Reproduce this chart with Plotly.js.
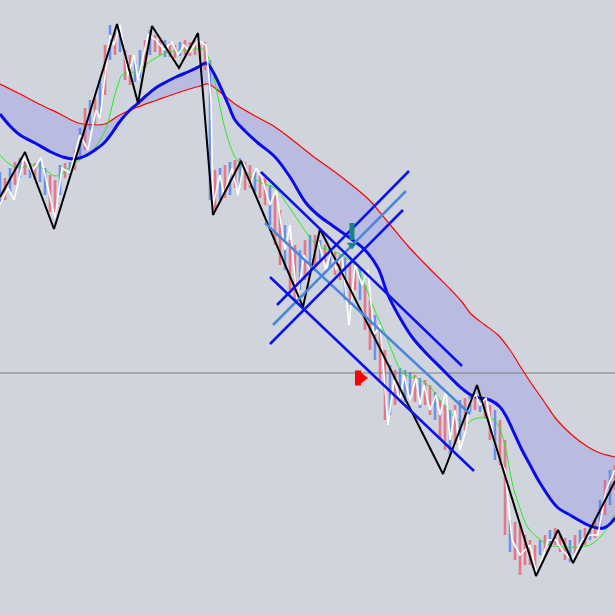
<!DOCTYPE html>
<html>
<head>
<meta charset="utf-8">
<script src="https://cdn.plot.ly/plotly-3.0.1.min.js"></script>
<style>html,body{margin:0;padding:0;background:#d0d5dd;}#chart{width:615px;height:615px;}</style>
</head>
<body>
<div id="chart"></div>
<script>
// Bar positions (time index) and high/low levels (chart units, larger = lower on screen)
const barX = [0,5,10,15,20,25,30,35,40,45,50,55,60,65,70,75,80,85,90,95,100,105,110,115,120,125,130,135,140,145,150,155,160,165,170,175,180,185,190,195,200,205,210,215,220,225,230,235,240,245,250,255,260,265,270,275,280,285,290,295,300,305,310,315,320,325,330,335,340,345,350,355,360,365,370,375,380,385,390,395,400,405,410,415,420,425,430,435,440,445,450,455,460,465,470,475,480,485,490,495,500,505,510,515,520,525,530,535,540,545,550,555,560,565,570,575,580,585,590,595,600,605,610,615];
const barHigh = [172,178,168,162,158,160,163,163,160,168,175,180,165,163,162,150,128,108,100,98,80,45,25,32,30,50,55,60,50,40,30,35,40,40,42,45,42,40,42,40,45,42,60,170,168,165,162,160,158,162,165,170,172,178,185,195,210,225,240,245,250,240,235,235,240,245,248,252,255,258,262,262,268,285,300,315,330,350,365,370,368,370,372,375,378,380,385,392,400,405,410,405,400,398,395,395,398,400,405,410,420,440,520,522,525,535,540,545,540,535,530,528,535,538,540,535,530,528,525,520,500,480,470,465];
const barLow = [205,200,192,185,178,175,178,180,182,195,212,215,195,178,175,170,158,150,130,125,115,95,60,55,52,80,85,82,78,68,55,52,55,57,57,58,56,55,56,55,58,70,200,210,200,198,195,188,185,190,188,192,198,205,225,245,265,270,290,300,290,280,275,265,260,262,268,275,280,300,305,290,300,330,350,360,380,420,415,405,400,402,400,402,408,405,415,420,440,450,455,445,440,430,412,410,412,418,440,460,465,535,552,560,575,565,565,568,555,552,548,545,552,560,562,555,548,545,540,538,530,515,505,490];

// Moving averages [x, level]
const slowMA = [[0,84],[20,94],[39,104],[60,114],[78,123],[95,125],[105,124],[118,116],[135,108],[157,100],[180,92],[200,86],[208,84],[220,92],[235,104],[255,116],[275,127],[295,142],[314,157],[335,172],[353,186],[365,196],[373,204],[382,215],[392,227],[408,246],[424,263],[438,277],[451,290],[462,302],[471,314],[485,325],[498,335],[510,350],[520,366],[529,380],[543,400],[557,420],[572,435],[588,447],[600,453],[615,457]];
const midMA = [[0,114],[10,126],[20,135],[35,143],[51,152],[63,157],[75,159],[85,156],[95,150],[104,143],[112,133],[118,124],[127,113],[137,104],[147,95],[157,87],[166,82],[176,77],[190,71],[200,66],[206,63],[212,70],[220,86],[228,104],[235,120],[245,131],[258,143],[275,157],[290,177],[306,203],[318,215],[333,226],[350,238],[365,250],[378,268],[388,295],[400,318],[412,337],[425,352],[443,370],[458,385],[471,395],[480,398],[490,400],[500,407],[506,416],[515,435],[522,450],[529,463],[540,483],[557,507],[570,515],[588,525],[597,528],[604,528],[610,524],[615,518]];
const fastMA = [[0,155],[8,163],[16,167],[25,167],[35,165],[45,170],[55,176],[62,174],[67,169],[78,161],[88,155],[94,149],[100,140],[106,129],[110,115],[114,98],[118,85],[122,75],[130,73],[137,71],[147,64],[157,57],[166,53],[176,51],[186,50],[196,49],[202,49],[206,53],[210,62],[214,78],[219,102],[224,125],[230,145],[235,157],[243,168],[251,176],[262,183],[275,188],[287,204],[298,220],[306,232],[314,243],[322,248],[333,251],[345,257],[353,263],[361,275],[367,290],[373,306],[380,322],[388,341],[394,356],[400,369],[408,376],[416,378],[425,383],[431,388],[440,400],[447,408],[455,418],[462,422],[467,424],[472,420],[478,418],[486,418],[494,420],[498,425],[502,435],[507,455],[510,472],[514,490],[520,508],[525,522],[529,529],[538,538],[549,545],[565,547],[580,547],[590,545],[596,541],[602,535],[608,527],[615,514]];

// ZigZag swings
const bigZigzag = [[0,197],[25,152],[54,229],[117,24],[138,103],[152,26],[179,68],[198,33],[213,215],[241,161],[303,307],[320,229],[443,474],[477,385],[536,576],[558,530],[573,563],[615,481]];
const smallZigzag = [[0,205],[8,188],[14,200],[24,158],[32,172],[41,158],[55,218],[62,168],[70,173],[80,135],[88,150],[96,110],[100,118],[110,35],[114,45],[120,25],[128,75],[134,55],[138,80],[148,35],[156,40],[164,50],[172,42],[178,55],[184,45],[190,52],[198,40],[206,45],[211,100],[213,205],[220,175],[224,195],[232,168],[238,195],[244,163],[250,185],[256,168],[262,178],[270,205],[276,190],[285,250],[290,225],[297,300],[304,255],[310,270],[318,240],[326,270],[332,248],[336,270],[342,255],[349,325],[355,265],[362,285],[368,270],[374,335],[380,325],[388,425],[394,380],[400,400],[404,375],[410,400],[416,378],[420,405],[424,385],[430,410],[436,395],[440,415],[446,390],[450,440],[455,410],[460,450],[466,430],[470,400],[476,395],[480,405],[486,398],[495,445],[500,460],[505,470],[512,540],[520,555],[530,545],[537,575],[548,540],[556,540],[562,550],[572,560],[582,540],[590,535],[598,535],[606,490],[615,470]];

// Channel / fan lines: [x0, y0, x1, y1]
const darkLines = [[261,172,462,366],[270,277,474,471],[277,305,409,171],[270,344,403,210]];
const lightLines = [[265,223,470,414],[273,325,406,191]];

// Reference level and signals
const refLevel = 373;
const sellSignal = {x:352, top:223, bottom:240, tip:245};
const buySignal = {y:378, left:355, right:361, tip:362};

const xs = a => a.map(p => p[0]);
const ys = a => a.map(p => p[1]);

function segs(lines){
  const x=[], y=[];
  lines.forEach(l => { x.push(l[0], l[2], null); y.push(l[1], l[3], null); });
  return {x, y};
}

// candles split by direction
const upX=[], upY=[], dnX=[], dnY=[];
for (let i=0;i<barX.length;i++){
  const mid = (barHigh[i]+barLow[i])/2;
  const prev = i>0 ? (barHigh[i-1]+barLow[i-1])/2 : mid;
  const up = (mid <= prev) ? (i%2===0) : (i%3===0);
  const tx = up ? upX : dnX, ty = up ? upY : dnY;
  tx.push(barX[i], barX[i], null); ty.push(barHigh[i], barLow[i], null);
}

const dl = segs(darkLines), ll = segs(lightLines);
const traces = [
  {x: xs(slowMA), y: ys(slowMA), mode:'lines', line:{width:0, color:'rgba(0,0,0,0)', shape:'spline'}, hoverinfo:'skip'},
  {x: xs(midMA), y: ys(midMA), mode:'lines', line:{width:0, color:'rgba(0,0,0,0)', shape:'spline'}, fill:'tonexty', fillcolor:'#babbe0', hoverinfo:'skip'},
  {x: dnX, y: dnY, mode:'lines', line:{width:2.6, color:'rgba(235,95,115,0.8)'}, hoverinfo:'skip'},
  {x: upX, y: upY, mode:'lines', line:{width:2.6, color:'rgba(85,125,240,0.8)'}, hoverinfo:'skip'},
  {x: [0,615], y: [refLevel, refLevel], mode:'lines', line:{width:1, color:'#7c7c7c'}, hoverinfo:'skip'},
  {x: xs(slowMA), y: ys(slowMA), mode:'lines', line:{width:1.2, color:'#ff0000', shape:'spline'}, hoverinfo:'skip'},
  {x: xs(fastMA), y: ys(fastMA), mode:'lines', line:{width:1, color:'#22ee22', shape:'spline'}, hoverinfo:'skip'},
  {x: xs(midMA), y: ys(midMA), mode:'lines', line:{width:3, color:'#0a0aee', shape:'spline'}, hoverinfo:'skip'},
  {x: xs(smallZigzag), y: ys(smallZigzag), mode:'lines', line:{width:1.6, color:'#ffffff'}, hoverinfo:'skip'},
  {x: xs(bigZigzag), y: ys(bigZigzag), mode:'lines', line:{width:2, color:'#000000'}, hoverinfo:'skip'},
  {x: ll.x, y: ll.y, mode:'lines', line:{width:2.5, color:'#4a86e0'}, hoverinfo:'skip'},
  {x: dl.x, y: dl.y, mode:'lines', line:{width:2.5, color:'#0a10f0'}, hoverinfo:'skip'},
  {x: [sellSignal.x, sellSignal.x], y: [sellSignal.top, sellSignal.bottom], mode:'lines', line:{width:5, color:'#148585'}, hoverinfo:'skip'},
  {x: [sellSignal.x], y: [sellSignal.tip], mode:'markers', marker:{symbol:'triangle-down', size:9, color:'#148585'}, hoverinfo:'skip'},
  {x: [buySignal.left, buySignal.right], y: [buySignal.y, buySignal.y], mode:'lines', line:{width:15, color:'#ff0000'}, hoverinfo:'skip'},
  {x: [buySignal.tip], y: [buySignal.y], mode:'markers', marker:{symbol:'triangle-right', size:12, color:'#ff0000'}, hoverinfo:'skip'}
];

const layout = {
  width:615, height:615,
  margin:{l:0,r:0,t:0,b:0},
  paper_bgcolor:'#d0d5dd', plot_bgcolor:'#d0d5dd',
  showlegend:false,
  xaxis:{range:[0,615], visible:false, fixedrange:true},
  yaxis:{range:[615,0], visible:false, fixedrange:true}
};
Plotly.newPlot('chart', traces, layout, {staticPlot:true, displayModeBar:false});
</script>
</body>
</html>
